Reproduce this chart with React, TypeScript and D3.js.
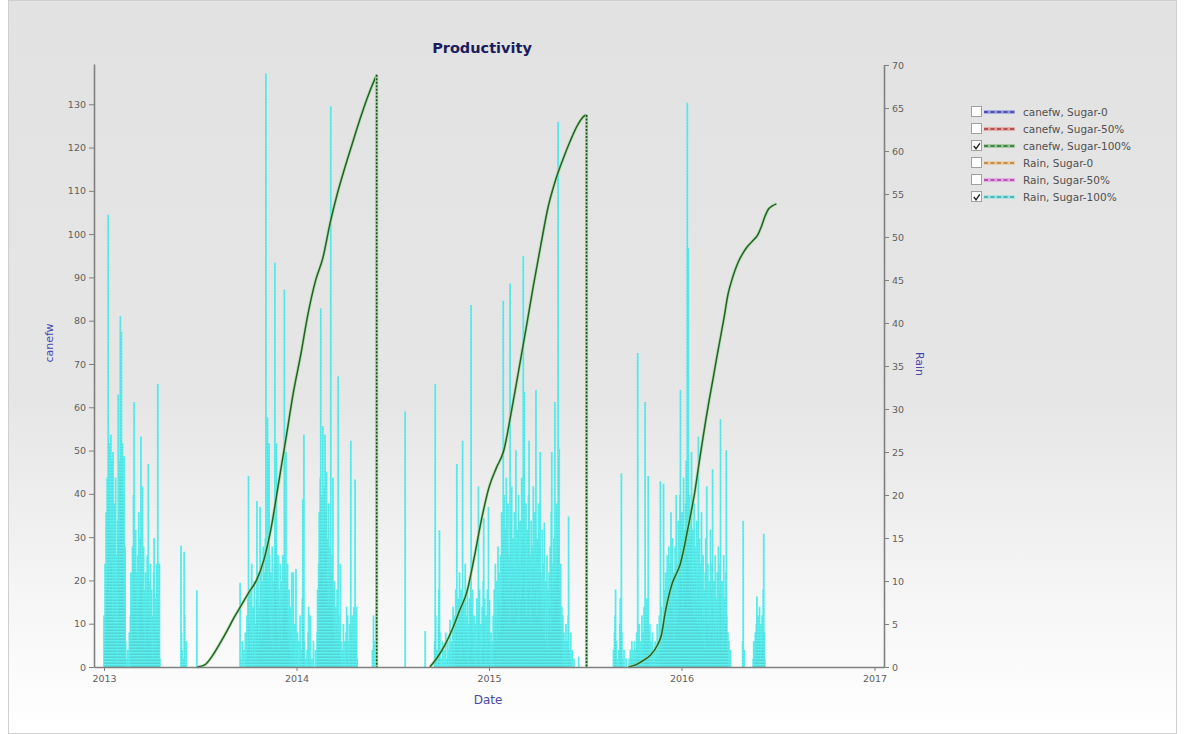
import { useEffect, useRef } from "react";
import * as d3 from "d3";

// canefw, Sugar-100%
const canefw2013: [string, number][] = [
  ["2013-06-27", 0], ["2013-07-11", 0.5], ["2013-07-25", 2.5], ["2013-08-08", 5.3],
  ["2013-08-22", 8.3], ["2013-09-05", 11.5], ["2013-09-19", 14.4], ["2013-10-03", 17.3],
  ["2013-10-17", 20], ["2013-10-31", 24.7], ["2013-11-14", 32.2], ["2013-11-28", 42.5],
  ["2013-12-12", 52.8], ["2013-12-26", 63.4], ["2014-01-09", 72.1], ["2014-01-23", 81.7],
  ["2014-02-06", 89.2], ["2014-02-20", 94.5], ["2014-03-06", 102.7], ["2014-03-20", 109.6],
  ["2014-04-03", 115.5], ["2014-04-17", 121], ["2014-05-01", 126.4], ["2014-05-15", 131.4],
  ["2014-05-29", 135.7], ["2014-06-02", 136.8],
];
const canefw2014: [string, number][] = [
  ["2014-09-11", 0], ["2014-09-25", 2.2], ["2014-10-09", 5], ["2014-10-23", 8.6],
  ["2014-11-06", 13], ["2014-11-20", 17.3], ["2014-12-04", 25.3], ["2014-12-18", 34.2],
  ["2015-01-01", 41.5], ["2015-01-15", 46], ["2015-01-29", 50], ["2015-02-12", 58.7],
  ["2015-02-26", 68.3], ["2015-03-12", 78], ["2015-03-26", 88], ["2015-04-09", 97.3],
  ["2015-04-23", 106.2], ["2015-05-07", 112.4], ["2015-05-21", 117.2], ["2015-06-04", 121.5],
  ["2015-06-18", 125.2], ["2015-07-02", 127.4], ["2015-07-05", 127.5],
];
const canefw2015: [string, number][] = [
  ["2015-09-22", 0], ["2015-10-06", 0.5], ["2015-10-20", 1.5], ["2015-11-03", 2.7],
  ["2015-11-17", 5.2], ["2015-11-24", 7.4], ["2015-12-01", 12.5], ["2015-12-08", 16.5],
  ["2015-12-15", 19.5], ["2015-12-22", 21.5], ["2015-12-29", 23.5], ["2016-01-05", 27],
  ["2016-01-12", 31.3], ["2016-01-19", 35.6], ["2016-01-26", 40.3], ["2016-02-02", 46],
  ["2016-02-09", 51.6], ["2016-02-16", 57], ["2016-02-23", 62], ["2016-03-01", 66.7],
  ["2016-03-08", 71.6], ["2016-03-15", 76.2], ["2016-03-22", 80.9], ["2016-03-29", 86],
  ["2016-04-05", 89.2], ["2016-04-12", 91.8], ["2016-04-19", 93.9], ["2016-04-26", 95.5],
  ["2016-05-03", 96.8], ["2016-05-10", 97.8], ["2016-05-17", 98.7], ["2016-05-24", 99.7],
  ["2016-05-31", 101.6], ["2016-06-07", 104], ["2016-06-14", 105.8], ["2016-06-21", 106.5],
  ["2016-06-29", 107],
];

// Rain, Sugar-100% : daily mm from a start date
const rainWet2013 = [
  6, 2, 12, 4, 18, 9, 22, 11, 52.6, 20, 26, 8, 16, 27, 12, 24, 6, 25, 14, 3,
  19, 10, 22, 5, 13, 0.5, 17, 31.7, 15, 24, 9, 40.8, 22, 39, 18, 26, 12, 20, 24.5, 7,
  14, 3, 0, 1, 0, 2, 0, 0, 4, 0, 6, 11, 3, 8, 14, 6, 20, 30.8, 12, 9,
  16, 4, 11, 7, 13, 3, 18, 8, 10, 15, 26.8, 12, 9, 21, 6, 14, 4, 9, 2, 11,
  5, 8, 13, 6, 23.6, 10, 3, 7, 12, 4, 9, 2, 6, 1, 11, 15, 5, 8, 2, 6,
  12, 4, 32.9, 9, 3, 12, 1,
];
const rainMay2013 = [0, 14.1, 4, 2, 0, 0, 1, 13.4, 6, 0, 0, 3];
const rainWet2013b = [
  0, 0, 9.8, 1, 0, 0, 3, 0, 0, 2, 0, 0, 4, 1, 0, 6, 2, 8, 22.2, 5,
  3, 9, 0, 4, 12, 2, 0, 7, 3, 10, 1, 5, 0, 8, 19.3, 6, 11, 2, 7, 4,
  18.6, 9, 12, 3, 10, 6, 14, 8, 11, 4, 15, 69, 12, 8, 29, 10, 6, 26, 13, 5,
  11, 3, 9, 14, 7, 2, 10, 12, 47, 15, 8, 26, 11, 4, 13, 9, 2, 7, 12, 5,
  10, 3, 8, 13, 6, 9, 43.9, 11, 7, 25, 10, 4, 12, 6, 3, 9, 2, 7, 0, 4,
  11, 2, 0, 11, 3, 1, 5, 0, 11.4, 2, 0, 4, 0, 0, 3, 0, 6, 1, 0, 2,
  8, 19.5, 5, 27, 3, 0, 1, 0, 0, 2, 0, 4, 7, 1, 0, 6, 0, 0, 1, 0,
  0, 3, 0, 0, 0, 2, 0, 0, 4, 9, 3, 12, 18, 10, 22, 41.7, 14, 20, 11, 28,
  16, 9, 21, 27, 13, 18, 22.7, 10, 15, 7, 19, 12, 8, 14, 65.2, 11, 6, 13, 22, 9,
  4, 10, 3, 7, 2, 5, 9, 3, 33.8, 6, 2, 4, 12, 1, 3, 0, 2, 0, 5, 1,
  0, 3, 0, 4, 7, 2, 6, 1, 3, 0, 5, 2, 26.3, 4, 1, 6, 0, 3, 7, 2,
  21.8, 3, 0, 7, 1,
];
const rainWet2014 = [
  0, 0, 3, 32.9, 6, 0, 2, 0, 0, 5, 9, 15.9, 4, 0, 1, 0, 0, 3, 0, 0,
  2, 0, 0, 4, 0, 0, 1, 3, 0, 0, 2, 5.5, 1, 0, 3, 0, 4, 7, 2, 0,
  6, 3, 9, 4, 23.6, 5, 2, 8, 3, 11, 6, 1, 9, 4, 7, 26.3, 3, 8, 2, 5,
  12, 4, 1, 6, 9, 3, 0, 5, 8, 2, 10, 42.1, 7, 3, 9, 4, 1, 6, 2, 5,
  0, 3, 8, 2, 6, 21, 4, 9, 1, 5, 0, 3, 7, 2, 10, 17.3, 5, 8, 3, 0,
  6, 2, 9, 4, 18.6, 3, 7.8, 2, 0, 4, 1, 0, 3, 6, 2, 9, 4, 12, 6, 3,
  10, 5, 14, 8, 11, 4, 7.3, 13, 6, 18, 9, 15, 42.6, 12, 20, 8, 16, 11, 22, 7,
  14, 19, 9, 13, 5, 44.6, 17, 10, 21, 8, 15, 12, 6, 18, 11, 9, 25.2, 14, 7, 16,
  10, 20, 5, 12, 17, 8, 13, 22, 9, 15, 47.8, 11, 32, 14, 8, 19, 6, 12, 16, 9,
  20, 26.3, 10, 13, 5, 17, 8, 14, 11, 21, 7, 12, 18, 9, 32.2, 13, 6, 15, 10, 19,
  8, 14, 25, 11, 5, 9, 16, 7, 12, 4, 16.8, 8, 3, 10, 6, 13, 2, 9, 5, 11,
  7, 14, 4, 18, 25, 9, 12, 6, 15, 10, 30.8, 13, 8, 19, 11, 16, 63.4, 14, 25.4, 9,
  5, 12, 3, 7, 2, 6, 0, 4, 1, 3, 0, 5, 2, 0, 3, 6, 17.5, 2, 0, 1,
  4, 0, 0, 2, 0, 0, 1,
];
const rainWet2015 = [
  0, 2, 0, 4, 6, 9, 3, 0, 1, 0, 0, 2, 0, 5, 8, 3, 22.5, 4, 1, 0,
  0, 2, 0, 0, 0, 1, 0, 0, 0, 0, 0, 1, 0, 2, 0, 1, 3, 0, 2, 1,
  0, 3, 1, 2, 0, 4, 2, 36.5, 3, 1, 5, 2, 0, 3, 1, 6, 2, 4, 0, 7,
  3, 30.8, 5, 2, 8, 3, 6, 22.2, 4, 1, 5, 0, 3, 2, 0, 4, 1, 0, 2, 0,
  3, 1, 0, 2, 5, 1, 3, 0, 6, 2, 21.6, 4, 7, 2, 5, 3, 21.3, 6, 9, 4,
  11, 7, 3, 13, 8, 5, 14, 9, 4, 12, 18, 7, 10, 15, 6, 11, 3, 9, 14, 5,
  20, 8, 12, 6, 17, 9, 13, 20, 32.2, 14, 10, 18, 7, 15, 22, 11, 16, 9, 19, 24,
  13, 65.6, 17, 48.7, 12, 20, 9, 15, 18, 25, 11, 7, 16, 10, 19, 6, 14, 12, 8, 17,
  5, 11, 26.8, 9, 15, 4, 12, 7, 18, 10, 3, 13, 6, 9, 2, 11, 15, 7, 21, 5,
  12, 8, 3, 10, 6, 16, 4, 9, 12, 23, 7, 3, 10, 5, 13, 2, 8, 4, 11, 6,
  14, 3, 9, 12, 28.8, 7, 4, 10, 2, 6, 13, 3, 8, 5, 11, 25.2, 6, 2, 4, 0,
  3, 1, 0, 2,
];
const rainMay2016 = [0, 1, 3, 0, 2, 4, 1, 5, 8.2, 3, 6, 2, 4, 7, 3, 1, 5, 2, 6, 3, 9, 15.5, 4, 1, 0];
const rainShowers: [string, number][] = [
  ["2013-06-26", 8.9], ["2014-05-25", 2], ["2014-05-27", 6], ["2014-05-28", 3],
  ["2014-07-26", 29.7], ["2014-09-02", 4.2], ["2015-06-20", 1.2],
  ["2016-04-26", 3], ["2016-04-27", 17], ["2016-04-29", 2],
];

const yearTicks = ["2013", "2014", "2015", "2016", "2017"];
const legendItems = [
  { label: "canefw, Sugar-0", color: "#4a4ad8", checked: false },
  { label: "canefw, Sugar-50%", color: "#e04848", checked: false },
  { label: "canefw, Sugar-100%", color: "#3a9a3a", checked: true },
  { label: "Rain, Sugar-0", color: "#f0a848", checked: false },
  { label: "Rain, Sugar-50%", color: "#e050e0", checked: false },
  { label: "Rain, Sugar-100%", color: "#48e0e0", checked: true },
];

const parse = d3.timeParse("%Y-%m-%d");

function daily(start: string, mm: number[]) {
  const t0 = parse(start)!;
  return mm.map((v, i) => ({ date: d3.timeDay.offset(t0, i), v }));
}

export default function App() {
  const ref = useRef<SVGSVGElement>(null);

  useEffect(() => {
    const W = 1184;
    const H = 734;
    const svg = d3.select(ref.current);
    svg.selectAll("*").remove();
    const font = "'DejaVu Sans', Verdana, sans-serif";

    const defs = svg.append("defs");
    const grad = defs
      .append("linearGradient")
      .attr("id", "bg")
      .attr("x1", 0)
      .attr("y1", 0)
      .attr("x2", 0)
      .attr("y2", 1);
    grad.append("stop").attr("offset", "0").attr("stop-color", "#e2e2e2");
    grad.append("stop").attr("offset", "0.55").attr("stop-color", "#e6e6e6");
    grad.append("stop").attr("offset", "0.82").attr("stop-color", "#f6f6f6");
    grad.append("stop").attr("offset", "1").attr("stop-color", "#ffffff");

    svg.append("rect").attr("width", W).attr("height", H).attr("fill", "#fff");
    svg
      .append("rect")
      .attr("x", 8.5)
      .attr("y", 0.5)
      .attr("width", 1168)
      .attr("height", H - 1)
      .attr("fill", "url(#bg)")
      .attr("stroke", "#cfcfcf");

    const x = d3
      .scaleTime()
      .domain([parse("2012-12-13")!, parse("2017-01-19")!])
      .range([94, 884]);
    const yL = d3.scaleLinear().domain([0, 139.3]).range([667, 64]);
    const yR = d3.scaleLinear().domain([0, 70]).range([667, 65]);

    // rain: one needle per wet day
    const rainDays = [
      ...daily("2013-01-01", rainWet2013),
      ...daily("2013-05-26", rainMay2013),
      ...daily("2013-09-14", rainWet2013b),
      ...daily("2014-09-18", rainWet2014),
      ...daily("2015-08-24", rainWet2015),
      ...daily("2016-05-15", rainMay2016),
      ...rainShowers.map(([d, v]) => ({ date: parse(d)!, v })),
    ].filter((d) => d.v > 0);
    const needles = rainDays
      .map((d) => `M${x(d.date).toFixed(2)},${yR(0)}V${yR(d.v).toFixed(2)}`)
      .join("");
    const rg = svg.append("g").attr("fill", "none");
    rg.append("path")
      .attr("d", needles)
      .attr("stroke", "#3ef0f0")
      .attr("stroke-opacity", 0.85)
      .attr("stroke-width", 1.8);
    rg.append("path")
      .attr("d", needles)
      .attr("stroke", "#4f9f9f")
      .attr("stroke-width", 0.7)
      .attr("stroke-opacity", 0.32)
      .attr("stroke-dasharray", "1.5,1.5");

    // canefw
    const gLine = d3
      .line<[string, number]>()
      .x((d) => x(parse(d[0])!))
      .y((d) => yL(d[1]))
      .curve(d3.curveMonotoneX);
    const gg = svg.append("g").attr("fill", "none");
    const seasons = [
      { pts: canefw2013, harvested: true },
      { pts: canefw2014, harvested: true },
      { pts: canefw2015, harvested: false },
    ];
    seasons.forEach(({ pts, harvested }) => {
      gg.append("path")
        .attr("d", gLine(pts))
        .attr("stroke", "#9ad89a")
        .attr("stroke-opacity", 0.6)
        .attr("stroke-width", 3.2);
      gg.append("path")
        .attr("d", gLine(pts))
        .attr("stroke", "#246224")
        .attr("stroke-width", 1.5);
      if (harvested) {
        const last = pts[pts.length - 1];
        const xx = x(parse(last[0])!);
        gg.append("line")
          .attr("x1", xx)
          .attr("x2", xx)
          .attr("y1", yL(last[1]))
          .attr("y2", yL(0))
          .attr("stroke", "#9ad89a")
          .attr("stroke-width", 3);
        gg.append("line")
          .attr("x1", xx)
          .attr("x2", xx)
          .attr("y1", yL(last[1]))
          .attr("y2", yL(0))
          .attr("stroke", "#244a24")
          .attr("stroke-width", 1.6)
          .attr("stroke-dasharray", "2,1.5");
      }
    });

    // axes
    const styleAxis = (g: d3.Selection<SVGGElement, unknown, null, undefined>) => {
      g.attr("font-family", font).attr("font-size", 9.5);
      g.select(".domain").attr("stroke", "#808080").attr("stroke-width", 1.6);
      g.selectAll(".tick line").attr("stroke", "#808080");
      g.selectAll(".tick text").attr("fill", "#606060");
    };
    svg
      .append("g")
      .attr("transform", "translate(94,0)")
      .call(
        d3.axisLeft(yL).tickValues(d3.range(0, 131, 10)).tickSize(5).tickSizeOuter(0).tickPadding(3)
      )
      .call(styleAxis);
    svg
      .append("g")
      .attr("transform", "translate(884,0)")
      .call(
        d3.axisRight(yR).tickValues(d3.range(0, 71, 5)).tickSize(5).tickSizeOuter(0).tickPadding(3)
      )
      .call(styleAxis);
    svg
      .append("g")
      .attr("transform", "translate(0,667)")
      .call(
        d3
          .axisBottom(x)
          .tickValues(yearTicks.map((y) => parse(`${y}-01-01`)!))
          .tickFormat((d) => d3.timeFormat("%Y")(d as Date))
          .tickSize(4)
          .tickSizeOuter(0)
          .tickPadding(4)
      )
      .call(styleAxis);

    // titles
    svg
      .append("text")
      .attr("x", 482)
      .attr("y", 53)
      .attr("text-anchor", "middle")
      .attr("font-family", font)
      .attr("font-weight", "bold")
      .attr("font-size", 14.5)
      .attr("fill", "#1c1c5c")
      .text("Productivity");
    svg
      .append("text")
      .attr("transform", "translate(53,343) rotate(-90)")
      .attr("text-anchor", "middle")
      .attr("font-family", font)
      .attr("font-size", 11)
      .attr("fill", "#4646b0")
      .text("canefw");
    svg
      .append("text")
      .attr("transform", "translate(916,364) rotate(90)")
      .attr("text-anchor", "middle")
      .attr("font-family", font)
      .attr("font-size", 11)
      .attr("fill", "#4646b0")
      .text("Rain");
    svg
      .append("text")
      .attr("x", 488)
      .attr("y", 704)
      .attr("text-anchor", "middle")
      .attr("font-family", font)
      .attr("font-size", 12)
      .attr("fill", "#4a4aa8")
      .text("Date");

    // legend
    const lg = svg.append("g").attr("font-family", font).attr("font-size", 10.5);
    const row = d3
      .scalePoint<string>()
      .domain(legendItems.map((d) => d.label))
      .range([112, 197]);
    legendItems.forEach((it) => {
      const cy = row(it.label)!;
      lg.append("rect")
        .attr("x", 971.5)
        .attr("y", cy - 5.5)
        .attr("width", 10)
        .attr("height", 10)
        .attr("fill", "#fff")
        .attr("stroke", "#a0a0a0");
      if (it.checked) {
        lg.append("path")
          .attr("d", `M973.8,${cy} l2.2,2.8 l3.8,-5.5`)
          .attr("fill", "none")
          .attr("stroke", "#222")
          .attr("stroke-width", 1.4);
      }
      lg.append("line")
        .attr("x1", 984)
        .attr("x2", 1015)
        .attr("y1", cy)
        .attr("y2", cy)
        .attr("stroke", it.color)
        .attr("stroke-opacity", 0.45)
        .attr("stroke-width", 3.5);
      lg.append("line")
        .attr("x1", 984)
        .attr("x2", 1015)
        .attr("y1", cy)
        .attr("y2", cy)
        .attr("stroke", d3.color(it.color)!.darker(0.8).formatHex())
        .attr("stroke-width", 1.3)
        .attr("stroke-dasharray", "4,2.5");
      lg.append("text")
        .attr("x", 1023)
        .attr("y", cy)
        .attr("dy", "0.35em")
        .attr("fill", "#505050")
        .text(it.label);
    });
  }, []);

  return (
    <svg
      ref={ref}
      width={1184}
      height={734}
      style={{ position: "absolute", left: 0, top: 0, display: "block" }}
    />
  );
}
